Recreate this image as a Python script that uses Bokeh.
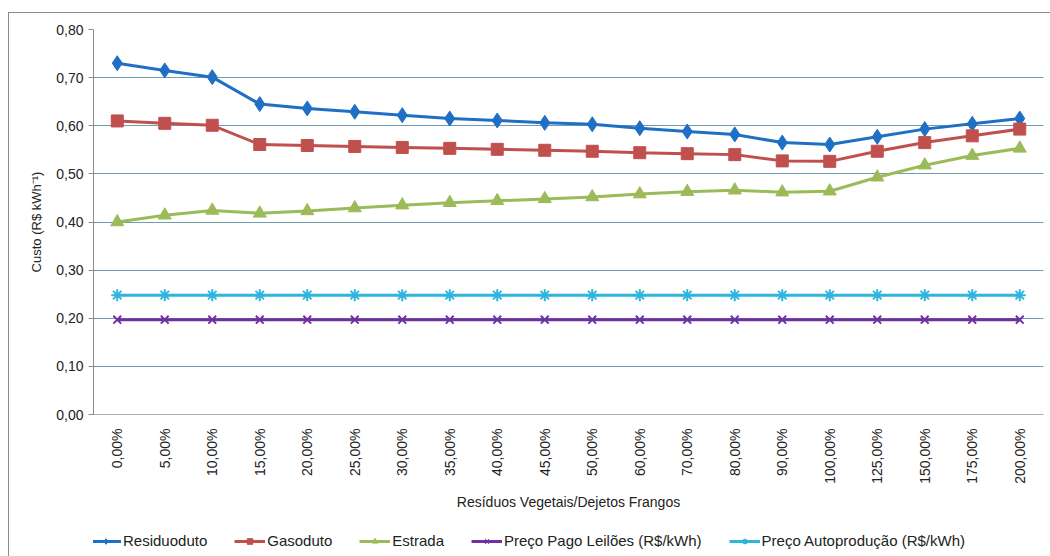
from bokeh.plotting import figure
from bokeh.layouts import column
from bokeh.models import FactorRange, Range1d, CustomJSTickFormatter, Legend, LegendItem, SingleIntervalTicker
from bokeh.embed import file_html
from bokeh.resources import INLINE
import math

categories = ["0,00%", "5,00%", "10,00%", "15,00%", "20,00%", "25,00%", "30,00%", "35,00%",
              "40,00%", "45,00%", "50,00%", "60,00%", "70,00%", "80,00%", "90,00%", "100,00%",
              "125,00%", "150,00%", "175,00%", "200,00%"]

residuoduto = [0.730, 0.715, 0.701, 0.645, 0.636, 0.629, 0.622, 0.615, 0.611, 0.606,
               0.603, 0.595, 0.588, 0.582, 0.565, 0.561, 0.577, 0.593, 0.604, 0.615]
gasoduto = [0.610, 0.605, 0.601, 0.561, 0.559, 0.557, 0.555, 0.553, 0.551, 0.549,
            0.547, 0.544, 0.542, 0.540, 0.527, 0.526, 0.547, 0.565, 0.579, 0.593]
estrada = [0.400, 0.414, 0.424, 0.418, 0.423, 0.429, 0.435, 0.440, 0.444, 0.448,
           0.452, 0.458, 0.463, 0.466, 0.462, 0.464, 0.493, 0.518, 0.538, 0.553]
preco_leiloes = [0.197] * 20
preco_autoproducao = [0.248] * 20

series_names = ["Residuoduto", "Gasoduto", "Estrada", "Preço Pago Leilões (R$/kWh)", "Preço Autoprodução (R$/kWh)"]

FONT = "Liberation Sans"
W = 1041

p = figure(width=W, height=499, x_range=FactorRange(*categories, range_padding=0),
           y_range=Range1d(0, 0.8), output_backend="svg", toolbar_location=None,
           min_border_left=84, min_border_right=7, min_border_top=16, min_border_bottom=95)
p.background_fill_color = "white"
p.border_fill_color = "white"
p.outline_line_color = None

p.xgrid.grid_line_color = None
p.ygrid.grid_line_color = "#6E9CAD"
p.ygrid.grid_line_width = 1

p.yaxis.ticker = SingleIntervalTicker(interval=0.1)
p.yaxis.formatter = CustomJSTickFormatter(code="return tick.toFixed(2).replace('.', ',');")
p.yaxis.axis_line_color = "#8c8c8c"
p.yaxis.major_tick_line_color = "#8c8c8c"
p.yaxis.major_tick_out = 5
p.yaxis.major_tick_in = 0
p.yaxis.minor_tick_line_color = None
p.yaxis.major_label_text_font = FONT
p.yaxis.major_label_text_font_size = "14px"
p.yaxis.major_label_text_color = "#222222"
p.yaxis.axis_label = "Custo (R$ kWh⁻¹)"
p.yaxis.axis_label_text_font = FONT
p.yaxis.axis_label_text_font_size = "13px"
p.yaxis.axis_label_text_font_style = "normal"
p.yaxis.axis_label_text_color = "#222222"
p.yaxis.axis_label_standoff = 9

p.xaxis.axis_line_color = "#b0b0b0"
p.xaxis.major_tick_line_color = None
p.xaxis.minor_tick_line_color = None
p.xaxis.major_label_orientation = math.pi / 2
p.xaxis.major_label_text_font = FONT
p.xaxis.major_label_text_font_size = "14px"
p.xaxis.major_label_text_color = "#222222"
p.xaxis.major_label_standoff = 8
p.xaxis.axis_label = "Resíduos Vegetais/Dejetos Frangos"
p.xaxis.axis_label_text_font = FONT
p.xaxis.axis_label_text_font_size = "14px"
p.xaxis.axis_label_text_font_style = "normal"
p.xaxis.axis_label_text_color = "#222222"
p.xaxis.axis_label_standoff = 7

colors = ["#1F6FC5", "#C0504D", "#9BBB59", "#7030A0", "#2EB5DC"]
markers = ["diamond", "square", "triangle", "x", "asterisk"]
sizes = [15, 12, 13, 11, 12]
data = [residuoduto, gasoduto, estrada, preco_leiloes, preco_autoproducao]

# legend strip below the chart
lg = figure(width=W, height=44, x_range=Range1d(0, 1), y_range=Range1d(0, 1),
            output_backend="svg", toolbar_location=None,
            min_border_left=0, min_border_right=0, min_border_top=0, min_border_bottom=0)
lg.axis.visible = False
lg.grid.grid_line_color = None
lg.outline_line_color = None
lg.background_fill_color = "white"
lg.border_fill_color = "white"

items = []
for name, vals, c, m, s in zip(series_names, data, colors, markers, sizes):
    p.line(categories, vals, line_color=c, line_width=3)
    p.scatter(categories, vals, marker=m, size=s, fill_color=c, line_color=c,
              line_width=2 if m in ("x", "asterisk") else 1)
    l1 = lg.line([-5, -4], [-5, -4], line_color=c, line_width=3)
    l2 = lg.scatter([-5], [-5], marker=m, size=s * 0.6, fill_color=c, line_color=c,
                    line_width=1.5 if m in ("x", "asterisk") else 1)
    items.append(LegendItem(label=name, renderers=[l1, l2]))

legend = Legend(items=items, orientation="horizontal", location=(-3, 7),
                label_text_font=FONT, label_text_font_size="15px", label_text_color="#222222",
                glyph_width=31, glyph_height=14, label_standoff=2, spacing=27,
                border_line_color=None, background_fill_alpha=0, padding=0, margin=0)
lg.add_layout(legend, "center")

layout = column(p, lg, spacing=0,
                styles={"border-left": "1px solid #8c8c8c", "border-top": "1px solid #8c8c8c",
                        "margin-top": "12px", "margin-left": "8px"})

open("out.html", "w").write(file_html(layout, INLINE))
